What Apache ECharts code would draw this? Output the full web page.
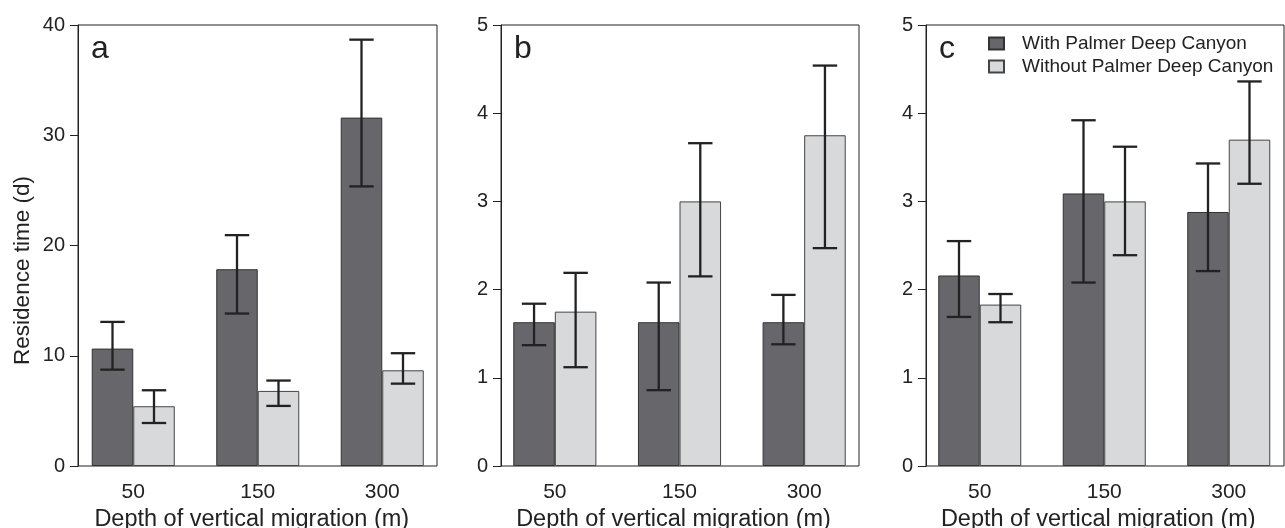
<!DOCTYPE html>
<html>
<head>
<meta charset="utf-8">
<script src="https://cdn.jsdelivr.net/npm/echarts@6/dist/echarts.min.js"></script>
<style>
  html, body { margin: 0; padding: 0; background: #fff; }
  #chartshow { width: 1285px; height: 528px; }
</style>
</head>
<body>
<div id="chartshow"></div>
<script>
// 数据
const depths = ['50', '150', '300'];
const seriesNames = ['With Palmer Deep Canyon', 'Without Palmer Deep Canyon'];

// panel a
const a_with = [10.65, 17.85, 31.6];
const a_with_lo = [8.74, 13.83, 25.36];
const a_with_hi = [13.07, 20.94, 38.67];
const a_without = [5.42, 6.81, 8.68];
const a_without_lo = [3.9, 5.45, 7.47];
const a_without_hi = [6.87, 7.75, 10.23];

// panel b
const b_with = [1.63, 1.63, 1.63];
const b_with_lo = [1.37, 0.86, 1.38];
const b_with_hi = [1.84, 2.08, 1.94];
const b_without = [1.75, 3.0, 3.75];
const b_without_lo = [1.12, 2.15, 2.47];
const b_without_hi = [2.19, 3.66, 4.54];

// panel c
const c_with = [2.16, 3.09, 2.88];
const c_with_lo = [1.69, 2.08, 2.21];
const c_with_hi = [2.55, 3.92, 3.43];
const c_without = [1.83, 3.0, 3.7];
const c_without_lo = [1.63, 2.39, 3.2];
const c_without_hi = [1.95, 3.62, 4.36];

const panelLetters = ['a', 'b', 'c'];
const yMax = [40, 5, 5];
const yStep = [10, 1, 1];

const FONT = 'Liberation Sans';
const darkFill = '#67666b';
const lightFill = '#d8d9db';
const lineColor = '#222';

// 面板布局 (frame = 坐标框, data = 柱子所在的网格)
const frames = [
  { left: 78, width: 359 },
  { left: 501, width: 358 },
  { left: 926, width: 358 },
];
const dataGrids = [
  { left: 71, width: 373.5 },
  { left: 492.5, width: 374 },
  { left: 917.5, width: 373.5 },
];
const TOP = 25;
const HEIGHT = 441;

const panels = [
  { w: a_with, wlo: a_with_lo, whi: a_with_hi, o: a_without, olo: a_without_lo, ohi: a_without_hi },
  { w: b_with, wlo: b_with_lo, whi: b_with_hi, o: b_without, olo: b_without_lo, ohi: b_without_hi },
  { w: c_with, wlo: c_with_lo, whi: c_with_hi, o: c_without, olo: c_without_lo, ohi: c_without_hi },
];

// 误差线
const makeErrorRender = (side) => (params, api) => {
  const idx = api.value(0);
  const lo = api.coord([idx, api.value(1)]);
  const hi = api.coord([idx, api.value(2)]);
  const cw = api.size([1, 0])[0];
  const x = lo[0] + side * cw / 6;
  const half = cw * 0.098;
  const style = { stroke: lineColor, lineWidth: 2.3 };
  return {
    type: 'group',
    children: [
      { type: 'line', shape: { x1: x, y1: hi[1], x2: x, y2: lo[1] }, style },
      { type: 'line', shape: { x1: x - half, y1: hi[1], x2: x + half, y2: hi[1] }, style },
      { type: 'line', shape: { x1: x - half, y1: lo[1], x2: x + half, y2: lo[1] }, style },
    ],
  };
};

const grid = [];
const xAxis = [];
const yAxis = [];
const series = [];
const title = [];

for (let i = 0; i < 3; i++) {
  // frame grid
  grid.push({
    left: frames[i].left, width: frames[i].width, top: TOP, height: HEIGHT,
    show: true, borderColor: lineColor, borderWidth: 1, backgroundColor: 'transparent',
    outerBoundsMode: 'none',
  });
  // data grid
  grid.push({
    left: dataGrids[i].left, width: dataGrids[i].width, top: TOP, height: HEIGHT,
    outerBoundsMode: 'none',
  });

  xAxis.push({
    gridIndex: 2 * i, type: 'value', min: 0, max: 1, show: false,
  });
  xAxis.push({
    gridIndex: 2 * i + 1,
    type: 'category',
    data: depths,
    axisLine: { show: false },
    axisTick: { show: false },
    axisLabel: { margin: 16, fontSize: 21, color: '#222', fontFamily: FONT },
    name: 'Depth of vertical migration (m)',
    nameLocation: 'middle',
    nameGap: 38.5,
    nameTextStyle: { fontSize: 23.5, color: '#222', fontFamily: FONT, padding: [0, 12, 0, 0] },
  });

  yAxis.push({
    gridIndex: 2 * i,
    type: 'value',
    min: 0,
    max: yMax[i],
    interval: yStep[i],
    splitLine: { show: false },
    axisLine: { show: true, lineStyle: { color: lineColor, width: 1 } },
    axisTick: { show: true, length: 8, lineStyle: { color: lineColor } },
    axisLabel: { margin: 13, fontSize: 20, color: '#222', fontFamily: FONT },
    name: i === 0 ? 'Residence time (d)' : '',
    nameLocation: 'middle',
    nameGap: 44,
    nameTextStyle: { fontSize: 22.5, color: '#222', fontFamily: FONT, padding: [0, 50, 0, 0] },
  });
  yAxis.push({
    gridIndex: 2 * i + 1, type: 'value', min: 0, max: yMax[i], show: false, splitLine: { show: false },
  });

  const p = panels[i];
  series.push({
    name: seriesNames[0],
    type: 'bar',
    xAxisIndex: 2 * i + 1,
    yAxisIndex: 2 * i + 1,
    data: p.w,
    barGap: '0%',
    barCategoryGap: '33.33%',
    itemStyle: { color: darkFill, borderColor: '#333', borderWidth: 1 },
    silent: true,
  });
  series.push({
    name: seriesNames[1],
    type: 'bar',
    xAxisIndex: 2 * i + 1,
    yAxisIndex: 2 * i + 1,
    data: p.o,
    barGap: '0%',
    barCategoryGap: '33.33%',
    itemStyle: { color: lightFill, borderColor: '#444', borderWidth: 1 },
    silent: true,
  });
  series.push({
    type: 'custom',
    xAxisIndex: 2 * i + 1,
    yAxisIndex: 2 * i + 1,
    renderItem: makeErrorRender(-1),
    data: depths.map((d, k) => [k, p.wlo[k], p.whi[k]]),
    z: 10,
    silent: true,
  });
  series.push({
    type: 'custom',
    xAxisIndex: 2 * i + 1,
    yAxisIndex: 2 * i + 1,
    renderItem: makeErrorRender(1),
    data: depths.map((d, k) => [k, p.olo[k], p.ohi[k]]),
    z: 10,
    silent: true,
  });

  title.push({
    text: panelLetters[i],
    left: frames[i].left + 8,
    top: 28,
    textStyle: { fontSize: 32, fontWeight: 'normal', color: '#222', fontFamily: FONT },
  });
}

const chart_option = {
  animation: false,
  backgroundColor: '#fff',
  title,
  legend: {
    data: seriesNames,
    orient: 'vertical',
    left: 983,
    top: 29,
    itemWidth: 15,
    itemHeight: 12,
    itemGap: 4,
    icon: 'rect',
    textStyle: { fontSize: 19, color: '#222', fontFamily: FONT, padding: [0, 0, 0, 13] },
    selectedMode: false,
  },
  grid,
  xAxis,
  yAxis,
  series,
};

const myChart = echarts.init(document.getElementById('chartshow'));
myChart.setOption(chart_option);
</script>
</body>
</html>
